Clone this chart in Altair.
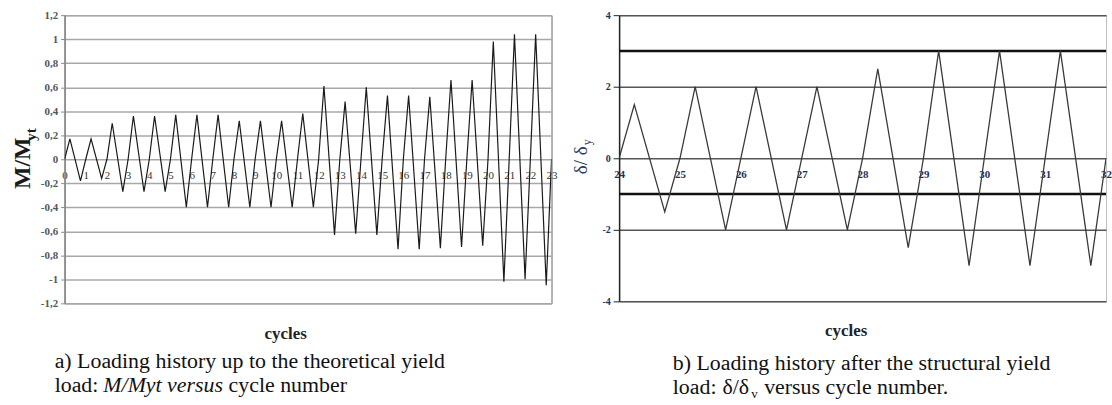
import altair as alt
import pandas as pd

# ---------------- data ----------------
LEFT_CYCLES = list(range(0, 23))
LEFT_PEAKS = [0.17, 0.17, 0.30, 0.36, 0.36, 0.37, 0.37, 0.37, 0.32, 0.32, 0.32, 0.38,
              0.61, 0.48, 0.60, 0.53, 0.53, 0.52, 0.66, 0.66, 0.98, 1.04, 1.04]
LEFT_TROUGHS = [-0.18, -0.16, -0.27, -0.27, -0.27, -0.40, -0.40, -0.40, -0.40, -0.40, -0.40, -0.40,
                -0.63, -0.62, -0.63, -0.75, -0.75, -0.74, -0.73, -0.72, -1.02, -1.00, -1.05]
LEFT_END = 23
LEFT_X_TICKS = list(range(0, 24))
LEFT_Y_TICKS = [-1.2, -1.0, -0.8, -0.6, -0.4, -0.2, 0.0, 0.2, 0.4, 0.6, 0.8, 1.0, 1.2]

RIGHT_CYCLES = list(range(24, 32))
RIGHT_PEAKS = [1.5, 2, 2, 2, 2.5, 3, 3, 3]
RIGHT_TROUGHS = [-1.5, -2, -2, -2, -2.5, -3, -3, -3]
RIGHT_END = 32
RIGHT_X_TICKS = list(range(24, 33))
RIGHT_Y_TICKS = list(range(-4, 5))
RIGHT_BOLD_LEVELS = [3, -1]

SERIF = "Times New Roman, Liberation Serif, Times, serif"
CAP = 22  # caption font size


def history(cycles, peaks, troughs, end):
    xs, ys = [], []
    for c, p, t in zip(cycles, peaks, troughs):
        xs += [c, c + 0.25, c + 0.75]
        ys += [0.0, p, t]
    xs.append(end)
    ys.append(0.0)
    return pd.DataFrame({"cycle": xs, "value": ys, "order": list(range(len(xs)))})


def label(text, x, y, size=CAP, weight="normal", style="normal", angle=0,
          align="left", baseline="alphabetic", color="#111111"):
    kw = dict(font=SERIF, fontSize=size, fontWeight=weight, fontStyle=style,
              align=align, baseline=baseline, color=color)
    if angle:
        kw["angle"] = angle
    return alt.Chart(pd.DataFrame({"t": [text]})).mark_text(**kw).encode(
        text="t:N", x=alt.value(x), y=alt.value(y))


left_df = history(LEFT_CYCLES, LEFT_PEAKS, LEFT_TROUGHS, LEFT_END)
right_df = history(RIGHT_CYCLES, RIGHT_PEAKS, RIGHT_TROUGHS, RIGHT_END)

# ---------------- left panel ----------------
LW, LH = 490, 290
left_line = alt.Chart(left_df).mark_line(color="#1a1a1a", strokeWidth=1.2, clip=True).encode(
    x=alt.X("cycle:Q",
            scale=alt.Scale(domain=[0, LEFT_END], nice=False, zero=False),
            axis=alt.Axis(values=LEFT_X_TICKS, offset=-LH / 2, domain=False, ticks=False,
                          grid=False, labelPadding=10, labelFont=SERIF, labelFontSize=11,
                          labelColor="#333333", labelFlush=False, labelOverlap=False,
                          title="cycles", titleFont=SERIF, titleFontSize=17,
                          titleFontWeight="bold", titleColor="#222222",
                          titleX=222, titleY=167)),
    y=alt.Y("value:Q",
            scale=alt.Scale(domain=[-1.2, 1.2], nice=False),
            axis=alt.Axis(values=LEFT_Y_TICKS, grid=True, gridColor="#a8a8a8", gridWidth=1.5,
                          domainColor="#888888", domainWidth=1.5, tickColor="#888888",
                          tickSize=4, labelPadding=3, labelFont=SERIF, labelFontSize=11,
                          labelFontWeight="bold", labelColor="#555555",
                          labelExpr="(datum.value < 0 ? '-' : '') + replace(format(abs(datum.value), '.1~f'), '.', ',')",
                          title=None)),
    order="order:Q",
)

left = alt.layer(
    left_line,
    label("M/M", -42, 149, size=24, weight="bold", angle=270, align="center",
          baseline="middle", color="#1a1a1a"),
    label("yt", -34, 120, size=15, weight="bold", angle=270, align="center",
          baseline="middle", color="#1a1a1a"),
    label("a) Loading history up to the theoretical yield", -10, 355),
    label("load:", -10, 379),
    label("M/Myt versus", 39, 379, style="italic"),
    label("cycle number", 165, 379),
).properties(width=LW, height=LH, view=alt.ViewBackground(stroke="#666666"))

# ---------------- right panel ----------------
RW, RH = 490, 288
navy = "#23305a"
right_line = alt.Chart(right_df).mark_line(color="#3a3a3a", strokeWidth=1.3, clip=True).encode(
    x=alt.X("cycle:Q",
            scale=alt.Scale(domain=[24, RIGHT_END], nice=False, zero=False),
            axis=alt.Axis(values=RIGHT_X_TICKS, offset=-RH / 2, domain=False, ticks=False,
                          grid=False, labelPadding=10, labelFont=SERIF, labelFontSize=11,
                          labelFontWeight="bold", labelColor=navy, labelFlush=False,
                          labelOverlap=False, title="cycles", titleFont=SERIF,
                          titleFontSize=17, titleFontWeight="bold", titleColor="#222222",
                          titleX=228, titleY=165)),
    y=alt.Y("value:Q",
            scale=alt.Scale(domain=[-4, 4], nice=False),
            axis=alt.Axis(values=RIGHT_Y_TICKS, grid=True, gridColor="#555555", gridWidth=1.5,
                          domainColor="#222222", domainWidth=1.5, tickColor="#222222",
                          tickSize=6, labelPadding=3, labelFont=SERIF, labelFontSize=10,
                          labelFontWeight="bold", labelColor=navy,
                          labelExpr="(datum.value < 0 ? '-' : '') + abs(datum.value)",
                          title=None)),
    order="order:Q",
)

bold_rules = alt.Chart(pd.DataFrame({"level": RIGHT_BOLD_LEVELS})).mark_rule(
    color="#111111", strokeWidth=2.5).encode(y="level:Q")

right = alt.layer(
    bold_rules,
    right_line,
    label("δ/ δ", -38, 146, size=19, angle=270, align="center", baseline="middle",
          color="#2b3a62"),
    label("y", -32, 128, size=12, angle=270, align="center", baseline="middle",
          color="#2b3a62"),
    label("b) Loading history after the structural yield", 54, 357),
    label("load:", 54, 381),
    label("δ/δ", 104, 381),
    label("v", 133, 385, size=13),
    label("versus cycle number.", 146, 381),
).properties(width=RW, height=RH, view=alt.ViewBackground(stroke="#bbbbbb"))

chart = alt.hconcat(left, right, spacing=14).properties(
    padding={"left": 10, "top": 7, "right": 0, "bottom": 0},
    background="white",
).configure(font=SERIF)

chart.save("out.html", embed_options={"renderer": "svg", "actions": False})
